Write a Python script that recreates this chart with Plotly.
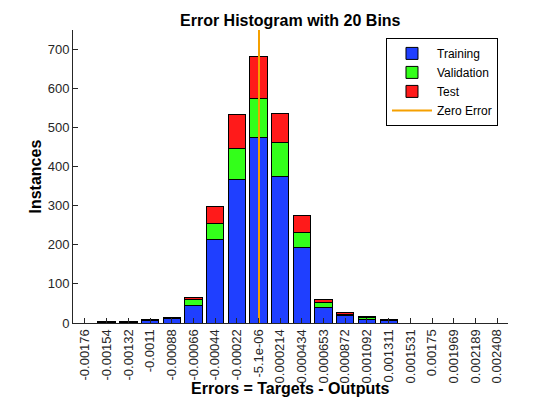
import plotly.graph_objects as go

tick_labels = ["-0.00176", "-0.00154", "-0.00132", "-0.0011", "-0.00088", "-0.00066",
               "-0.00044", "-0.00022", "-5.1e-06", "0.000214", "0.000434", "0.000653",
               "0.000872", "0.001092", "0.001311", "0.001531", "0.00175", "0.001969",
               "0.002189", "0.002408"]
bin_centers = [-0.00176, -0.00154, -0.00132, -0.0011, -0.00088, -0.00066, -0.00044,
               -0.00022, -5.1e-06, 0.000214, 0.000434, 0.000653, 0.000872, 0.001092,
               0.001311, 0.001531, 0.00175, 0.001969, 0.002189, 0.002408]
training = [0, 2, 2, 6, 12, 46, 215, 368, 475, 374, 192, 40, 19, 10, 7, 0, 0, 0, 0, 0]
validation = [0, 0, 1, 1, 2, 14, 39, 78, 99, 87, 39, 13, 4, 3, 1, 0, 0, 0, 0, 0]
test = [0, 1, 0, 1, 1, 6, 43, 87, 108, 74, 45, 8, 4, 3, 1, 0, 0, 0, 0, 0]
zero_error = 0.0

idx = list(range(len(tick_labels)))
bin_step = bin_centers[9] - bin_centers[8]
zero_pos = 8 + (zero_error - bin_centers[8]) / bin_step

fig = go.Figure()
line = dict(color="black", width=1)
fig.add_trace(go.Bar(x=idx, y=training, name="Training", width=0.8,
                     marker=dict(color="#1f3fff", line=line)))
fig.add_trace(go.Bar(x=idx, y=validation, name="Validation", width=0.8,
                     marker=dict(color="#33ff1a", line=line)))
fig.add_trace(go.Bar(x=idx, y=test, name="Test", width=0.8,
                     marker=dict(color="#ff1a1a", line=line)))
fig.add_trace(go.Scatter(x=[zero_pos, zero_pos], y=[0, 750], mode="lines",
                         name="Zero Error", line=dict(color="#f5a000", width=2)))

fig.update_layout(
    width=560, height=420,
    barmode="stack",
    paper_bgcolor="white", plot_bgcolor="white",
    margin=dict(l=65, r=60, t=22, b=105),
    font=dict(family="Liberation Sans, Arial, sans-serif", size=13, color="#262626"),
    showlegend=True,
    legend=dict(x=0.977, y=0.973, xanchor="right", yanchor="top",
                bordercolor="black", borderwidth=1, bgcolor="white",
                font=dict(size=12, color="black"), tracegroupgap=0,
                itemwidth=40, traceorder="normal"),
    xaxis=dict(range=[-0.55, 19.5], tickmode="array", tickvals=idx, ticktext=tick_labels,
               tickangle=-90, ticks="inside", ticklen=5, tickcolor="#262626",
               showline=True, linecolor="#262626", linewidth=1, showgrid=False,
               zeroline=False, tickfont=dict(size=13)),
    yaxis=dict(range=[0, 750], tickmode="array", tickvals=[0, 100, 200, 300, 400, 500, 600, 700],
               ticks="inside", ticklen=5, tickcolor="#262626",
               showline=True, linecolor="#262626", linewidth=1, showgrid=False,
               zeroline=False, tickfont=dict(size=13)),
    annotations=[
        dict(text="<b>Error Histogram with 20 Bins</b>", xref="paper", yref="paper",
             x=0.5, y=1, yshift=10, xanchor="center", yanchor="middle", showarrow=False,
             font=dict(size=16, color="black")),
        dict(text="<b>Errors = Targets - Outputs</b>", xref="paper", yref="paper",
             x=0.5, y=0, yshift=-65, xanchor="center", yanchor="middle", showarrow=False,
             font=dict(size=16, color="black")),
        dict(text="<b>Instances</b>", xref="paper", yref="paper", textangle=-90,
             x=0, xshift=-38, y=0.5, xanchor="center", yanchor="middle", showarrow=False,
             font=dict(size=16, color="black")),
    ],
)

fig.write_html("out.html")
